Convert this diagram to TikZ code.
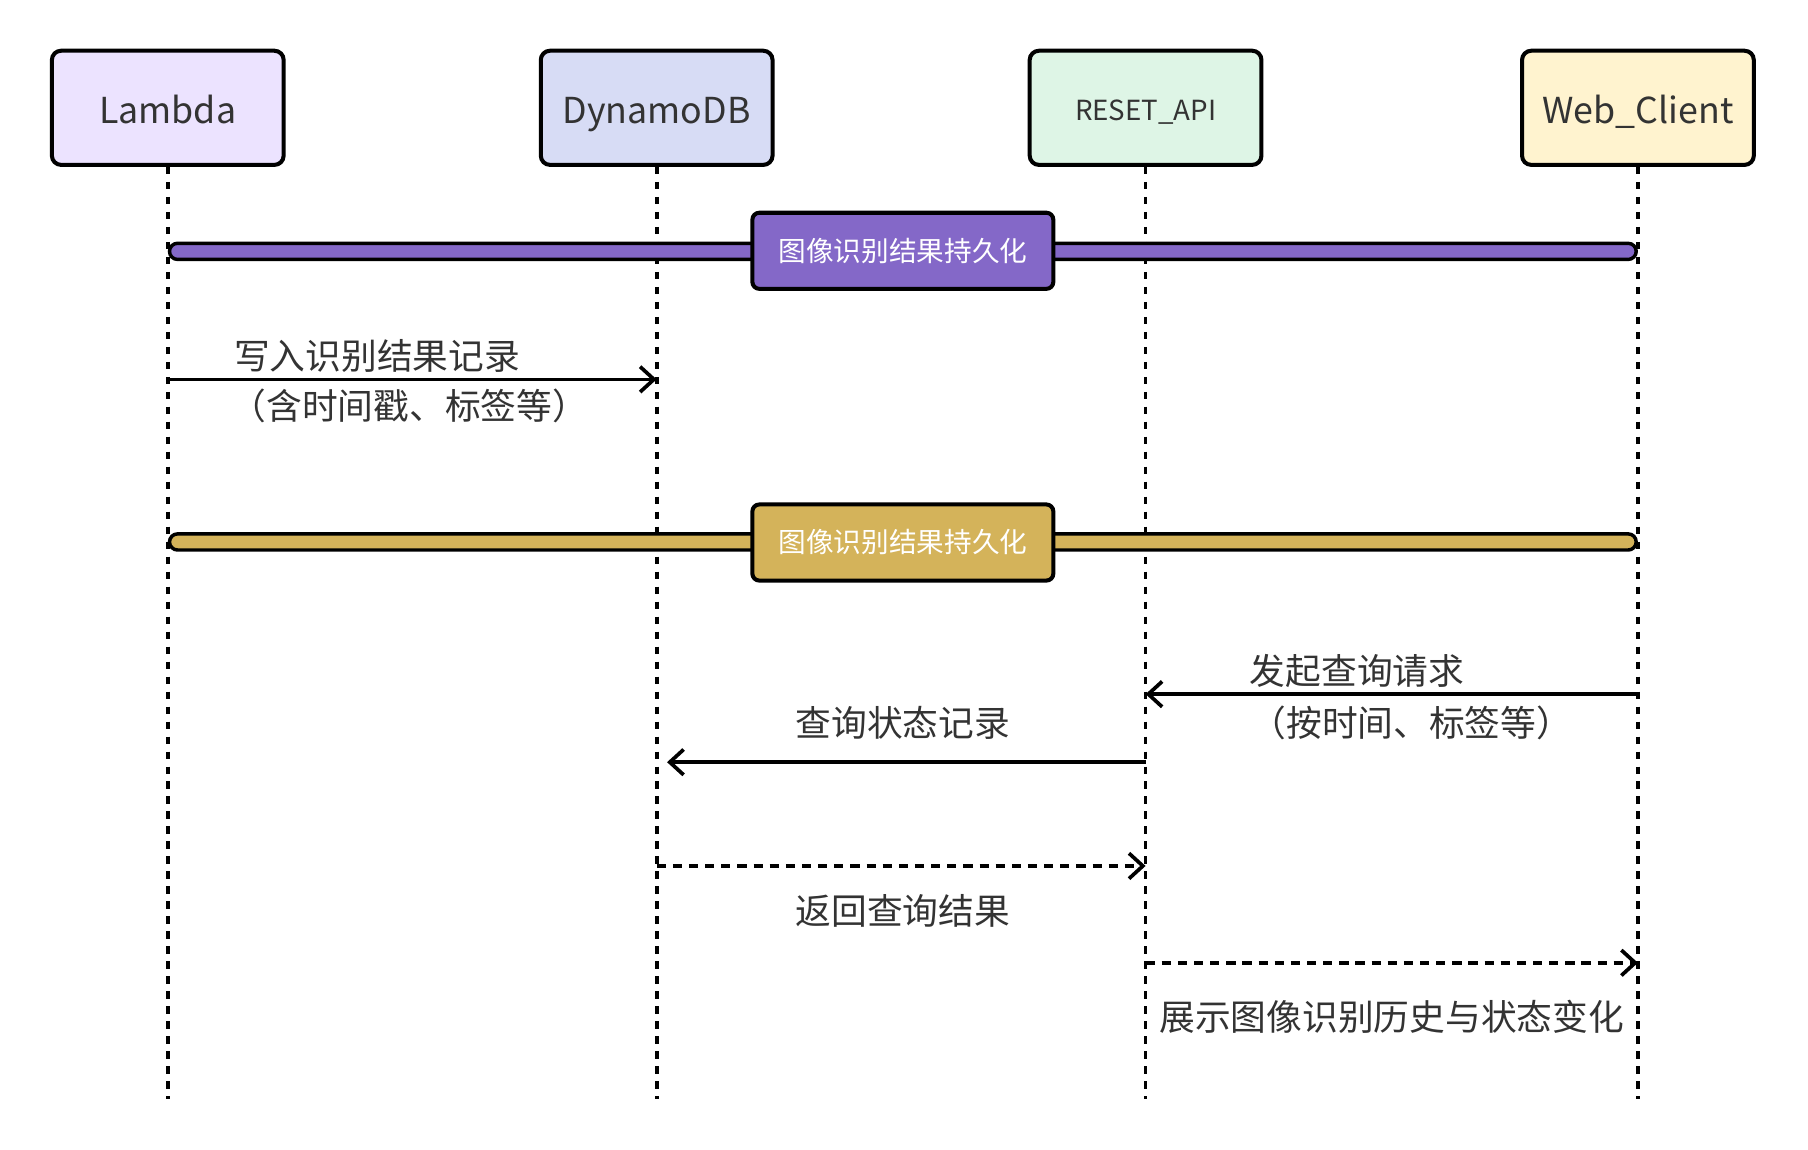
\documentclass[tikz,border=0pt]{standalone}
\usepackage{fontspec}
\setmainfont{Noto Sans CJK SC}
\usetikzlibrary{arrows.meta, positioning, calc}
\definecolor{txt}{HTML}{333333}
\definecolor{lambdafill}{HTML}{ECE3FF}
\definecolor{dynamofill}{HTML}{D7DCF5}
\definecolor{apifill}{HTML}{DEF5E6}
\definecolor{webfill}{HTML}{FFF3CF}
\definecolor{purplebar}{HTML}{8468C8}
\definecolor{goldbar}{HTML}{D4B35A}
\tikzstyle{actor} = [rectangle, rounded corners=8pt, minimum width=201pt, minimum height=99pt, text centered, text height=27pt, text depth=0pt, draw=black, line width=3.5pt, text=txt, font=\fontsize{31}{37}\selectfont]
\tikzstyle{lifeline} = [line width=3.2pt, dash pattern=on 6.5pt off 6.5pt]
\tikzstyle{msg} = [line width=3.2pt]
\tikzstyle{reply} = [line width=3.2pt, dash pattern=on 8pt off 6pt]
\tikzstyle{msglabel} = [text=txt, inner sep=0pt, font=\fontsize{31}{37}\selectfont]
\tikzstyle{bar} = [draw=black, line width=3pt, rounded corners=7pt]
\tikzstyle{barlabel} = [rectangle, rounded corners=6pt, minimum width=261pt, minimum height=66pt, draw=black, line width=3.5pt, text=white, font=\fontsize{24}{29}\selectfont]

\begin{document}
\begin{tikzpicture}[x=1pt, y=-1pt, node distance=424pt, >={Straight Barb[length=12pt,width=22pt]}]
    \useasboundingbox (0,0) rectangle (1568,997.3);

    \node[actor, fill=lambdafill] (lambda) at (145.5,93.5) {Lambda};
    \node[actor, fill=dynamofill, right of=lambda] (dynamo) {DynamoDB};
    \node[actor, fill=apifill, right of=dynamo, font=\fontsize{24}{29}\selectfont, text height=22.5pt] (api) {RESET\_API};
    \node[actor, fill=webfill, right of=api, xshift=3pt] (web) {Web\_Client};

    % lifelines
    \foreach \p in {lambda, dynamo, api, web} {
        \coordinate (\p end) at (\p |- 0,953);
        \draw[lifeline] (\p.south) -- (\p end);
    }

    % first phase
    \draw[bar, fill=purplebar] ($(lambda |- 0,211)+(1.5,0)$) rectangle ($(web |- 0,225)-(1.5,0)$);
    \node[barlabel, fill=purplebar] (phase1) at (783,217.5) {图像识别结果持久化};

    \coordinate (w1) at (lambda |- 0,329);
    \coordinate (w2) at (dynamo |- 0,329);
    \draw[msg, ->] (w1) -- (w2);
    \node[msglabel] (writetop) at (327,309) {写入识别结果记录};
    \node[msglabel] (writebot) at (355,352) {（含时间戳、标签等）};

    % second phase
    \draw[bar, fill=goldbar] ($(lambda |- 0,463)+(1.5,0)$) rectangle ($(web |- 0,477)-(1.5,0)$);
    \node[barlabel, fill=goldbar] (phase2) at (783,470.5) {图像识别结果持久化};

    \coordinate (q1) at (web |- 0,602);
    \coordinate (q2) at (api |- 0,602);
    \draw[msg, ->] (q1) -- (q2);
    \node[msglabel] (querytop) at (1177,582) {发起查询请求};
    \node[msglabel] (querybot) at (1224,627) {（按时间、标签等）};

    \coordinate (s1) at (api |- 0,661);
    \coordinate (s2) at (dynamo |- 0,661);
    \draw[msg, ->, shorten >=9pt] (s1) -- (s2);
    \node[msglabel] (state) at (783,627) {查询状态记录};

    \coordinate (r1) at (dynamo |- 0,751);
    \coordinate (r2) at (api |- 0,751);
    \draw[reply, ->] (r1) -- (r2);
    \node[msglabel] (result) at (783,790) {返回查询结果};

    \coordinate (d1) at (api |- 0,835);
    \coordinate (d2) at (web |- 0,835);
    \draw[reply, ->] (d1) -- (d2);
    \node[msglabel] (show) at (1207,882) {展示图像识别历史与状态变化};

\end{tikzpicture}
\end{document}
